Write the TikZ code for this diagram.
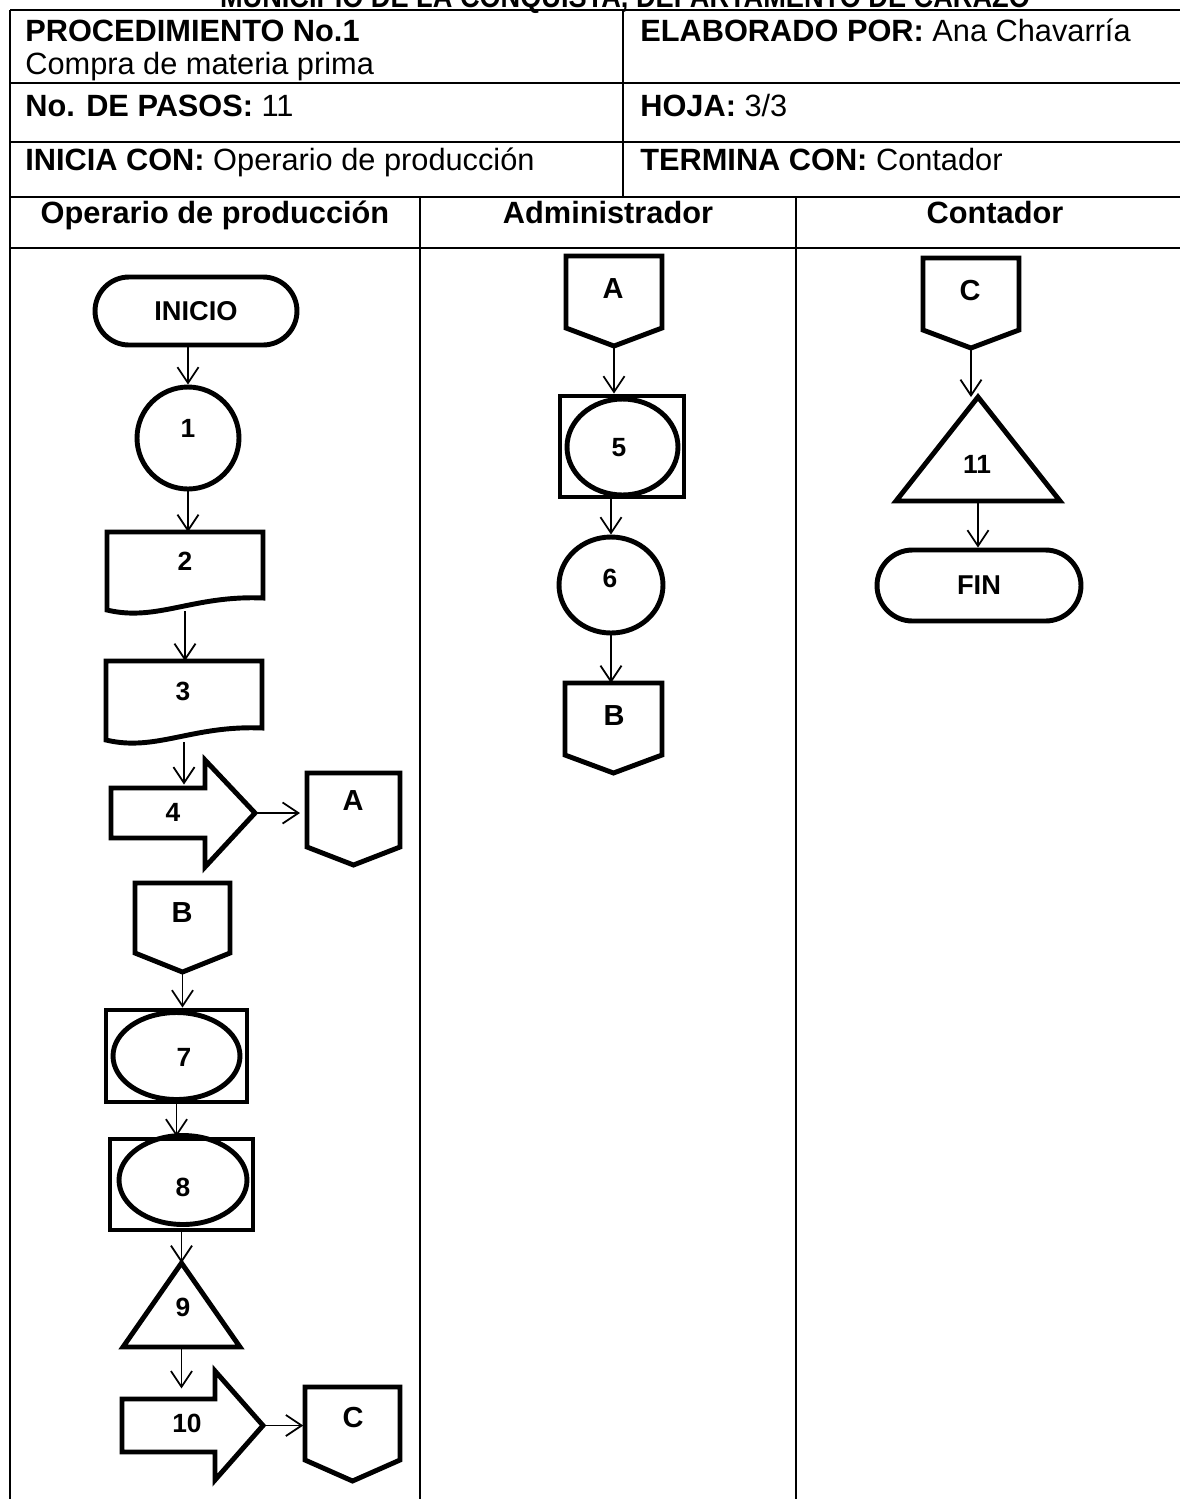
\documentclass[tikz,border=0pt]{standalone}
\usepackage{fontspec}
\setmainfont{Liberation Sans}
\usetikzlibrary{arrows.meta,shapes.geometric}
\begin{document}
\begin{tikzpicture}[x=0.02cm,y=-0.02cm,
  tline/.style={line width=0.9pt},
  shp/.style={line width=2.8pt, line join=miter},
  conn/.style={line width=1pt,-{Straight Barb[length=9pt,width=12pt]}},
  anch/.style={draw=none,inner sep=0pt,outer sep=0pt,rectangle},
  lbl/.style={font=\fontsize{15}{18}\selectfont\bfseries,inner sep=0pt},
  let/.style={font=\fontsize{16.5}{19}\selectfont\bfseries,inner sep=0pt},
  ttxt/.style={font=\fontsize{17.5}{21}\selectfont,inner sep=0pt,anchor=base west},
  htxt/.style={font=\fontsize{17.5}{21}\selectfont\bfseries,inner sep=0pt,anchor=base},
  term/.style={shp,draw,rectangle,inner sep=0pt,font=\fontsize{15.5}{18}\selectfont\bfseries},
  bx/.style={shp,draw,rectangle,inner sep=0pt},
  ell/.style={shp,draw,ellipse,inner sep=0pt},
]
\useasboundingbox (0,0) rectangle (1180,1499);
\fill[white] (0,0) rectangle (1180,1499);

% clipped title
\begin{scope}
\clip (0,0) rectangle (1180,1499);
\node[font=\fontsize{17.5}{21}\selectfont\bfseries,anchor=base,inner sep=0pt] (titulo) at (625,7)
  {\resizebox{16.2cm}{\height}{MUNICIPIO DE LA CONQUISTA, DEPARTAMENTO DE CARAZO}};
\end{scope}

% table
\draw[tline] (10,10) -- (1180,10);
\draw[tline] (10,83) -- (1180,83);
\draw[tline] (10,142) -- (1180,142);
\draw[tline] (10,197) -- (1180,197);
\draw[tline] (10,248) -- (1180,248);
\draw[tline] (10,10) -- (10,1499);
\draw[tline] (623,10) -- (623,197);
\draw[tline] (420,197) -- (420,1499);
\draw[tline] (796,197) -- (796,1499);

\node[ttxt] (proc) at (25,41) {\textbf{PROCEDIMIENTO No.1}};
\node[ttxt] (compra) at (25,74) {Compra de materia prima};
\node[ttxt] (pasos) at (25,116) {\textbf{No. DE PASOS:} 11};
\node[ttxt] (inicia) at (25,170) {\textbf{INICIA CON:} Operario de producción};
\node[ttxt] (elab) at (640,41) {\textbf{ELABORADO POR:} Ana Chavarría};
\node[ttxt] (hoja) at (640,116) {\textbf{HOJA:} 3/3};
\node[ttxt] (termina) at (640,170) {\textbf{TERMINA CON:} Contador};
\node[htxt] (h1) at (215,223) {Operario de producción};
\node[htxt] (h2) at (608,223) {Administrador};
\node[htxt] (h3) at (995,223) {Contador};

% ---------- lane 1 ----------
\node[term,rounded corners=0.68cm,minimum width=4.04cm,minimum height=1.36cm] (inicio) at (196,311) {INICIO};

\node[shp,draw,circle,minimum size=2.04cm,inner sep=0pt] (c1) at (188,438) {};
\node[lbl] (l1) at (188,428) {1};

\node[anch,minimum width=3.12cm,minimum height=1.58cm] (d2) at (185,571.5) {};
\draw[shp] (263,598) .. controls (193,595) and (157,622) .. (107,610) -- (107,532) -- (263,532) -- cycle;
\node[lbl] (l2) at (185,561) {2};

\node[anch,minimum width=3.12cm,minimum height=1.62cm] (d3) at (184,701.5) {};
\draw[shp] (262,728) .. controls (192,725) and (156,752) .. (106,740) -- (106,661) -- (262,661) -- cycle;
\node[lbl] (l3) at (183,691) {3};

\node[anch,minimum width=2.88cm,minimum height=1cm] (a4) at (183,813) {};
\draw[shp] (111,788) -- (205,788) -- (205,760) -- (255,813) -- (205,867) -- (205,838) -- (111,838) -- cycle;
\node[lbl] (l4) at (173,812) {4};

\node[anch,minimum width=1.86cm,minimum height=1.84cm] (oA1) at (353.5,819) {};
\draw[shp] (307,773) -- (400,773) -- (400,847) -- (353.5,865) -- (307,847) -- cycle;
\node[let] (lA1) at (353,801) {A};

\node[anch,minimum width=1.9cm,minimum height=1.78cm] (oB1) at (182.5,927.5) {};
\draw[shp] (135,883) -- (230,883) -- (230,953) -- (182.5,972) -- (135,953) -- cycle;
\node[let] (lB1) at (182,913) {B};

\node[bx,minimum width=2.82cm,minimum height=1.84cm] (p7) at (176.5,1056) {};
\node[ell,minimum width=2.54cm,minimum height=1.74cm] (p7e) at (176.5,1056) {};
\node[lbl] (l7) at (184,1057) {7};

\node[bx,minimum width=2.86cm,minimum height=1.82cm] (p8) at (181.5,1184.5) {};
\node[ell,minimum width=2.56cm,minimum height=1.78cm] (p8e) at (183,1180) {};
\node[lbl] (l8) at (183,1187) {8};

\node[anch,minimum width=2.34cm,minimum height=1.68cm] (t9) at (181.5,1305) {};
\draw[shp] (181.5,1263) -- (240,1347) -- (123,1347) -- cycle;
\node[lbl] (l9) at (183,1307) {9};

\node[anch,minimum width=2.82cm,minimum height=1.06cm] (a10) at (192.5,1425.5) {};
\draw[shp] (122,1399) -- (215,1399) -- (215,1371) -- (263,1425.5) -- (215,1480) -- (215,1452) -- (122,1452) -- cycle;
\node[lbl] (l10) at (187,1423) {10};

\node[anch,minimum width=1.9cm,minimum height=1.88cm] (oC1) at (352.5,1434) {};
\draw[shp] (305,1387) -- (400,1387) -- (400,1460) -- (352.5,1481) -- (305,1460) -- cycle;
\node[let] (lC1) at (353,1418) {C};

% ---------- lane 2 ----------
\node[anch,minimum width=1.92cm,minimum height=1.8cm] (oA2) at (614,301) {};
\draw[shp] (566,256) -- (662,256) -- (662,328) -- (614,346) -- (566,328) -- cycle;
\node[let] (lA2) at (613,289) {A};

\node[bx,minimum width=2.48cm,minimum height=2.02cm] (p5) at (622,446.5) {};
\node[ell,minimum width=2.22cm,minimum height=1.92cm] (p5e) at (622.5,447) {};
\node[lbl] (l5) at (619,448) {5};

\node[ell,minimum width=2.08cm,minimum height=1.92cm] (c6) at (611,585) {};
\node[lbl] (l6) at (610,578) {6};

\node[anch,minimum width=1.94cm,minimum height=1.8cm] (oB2) at (613.5,728) {};
\draw[shp] (565,683) -- (662,683) -- (662,755) -- (613.5,773) -- (565,755) -- cycle;
\node[let] (lB2) at (614,716) {B};

% ---------- lane 3 ----------
\node[anch,minimum width=1.92cm,minimum height=1.8cm] (oC3) at (971,303) {};
\draw[shp] (923,258) -- (1019,258) -- (1019,330) -- (971,348) -- (923,330) -- cycle;
\node[let] (lC3) at (970,291) {C};

\node[anch,minimum width=3.28cm,minimum height=2.08cm] (t11) at (978,449) {};
\draw[shp] (978,397) -- (1060,501) -- (896,501) -- cycle;
\node[lbl] (l11) at (977,464) {11};

\node[term,rounded corners=0.71cm,minimum width=4.08cm,minimum height=1.42cm] (fin) at (979,585.5) {FIN};

% ---------- connectors ----------
\draw[conn] (c1.north |- inicio.south) -- (c1.north);
\draw[conn] (c1.south) -- (c1.south |- d2.north);
\draw[conn] (d2.south) -- (d2.south |- d3.north);
\draw[conn,shorten >=2pt] (d3.south) -- (d3.south |- a4.north);
\draw[conn,shorten >=4pt] (a4.east) -- (a4.east -| oA1.west);
\draw[conn] (oB1.south) -- (oB1.south |- p7.north);
\draw[conn] (p7.south) -- (p7.south |- p8.north);
\draw[conn] (p8.south) -- (p8.south |- t9.north);
\draw[conn,shorten >=6pt] (t9.south) -- (t9.south |- a10.north);
\draw[conn,shorten >=1pt] (a10.east) -- (a10.east -| oC1.west);
\draw[conn] (oA2.south) -- (oA2.south |- p5.north);
\draw[conn] (c6.north |- p5.south) -- (c6.north);
\draw[conn] (c6.south) -- (c6.south |- oB2.north);
\draw[conn] (oC3.south) -- (oC3.south |- t11.north);
\draw[conn] (t11.south) -- (t11.south |- fin.north);
\end{tikzpicture}
\end{document}
